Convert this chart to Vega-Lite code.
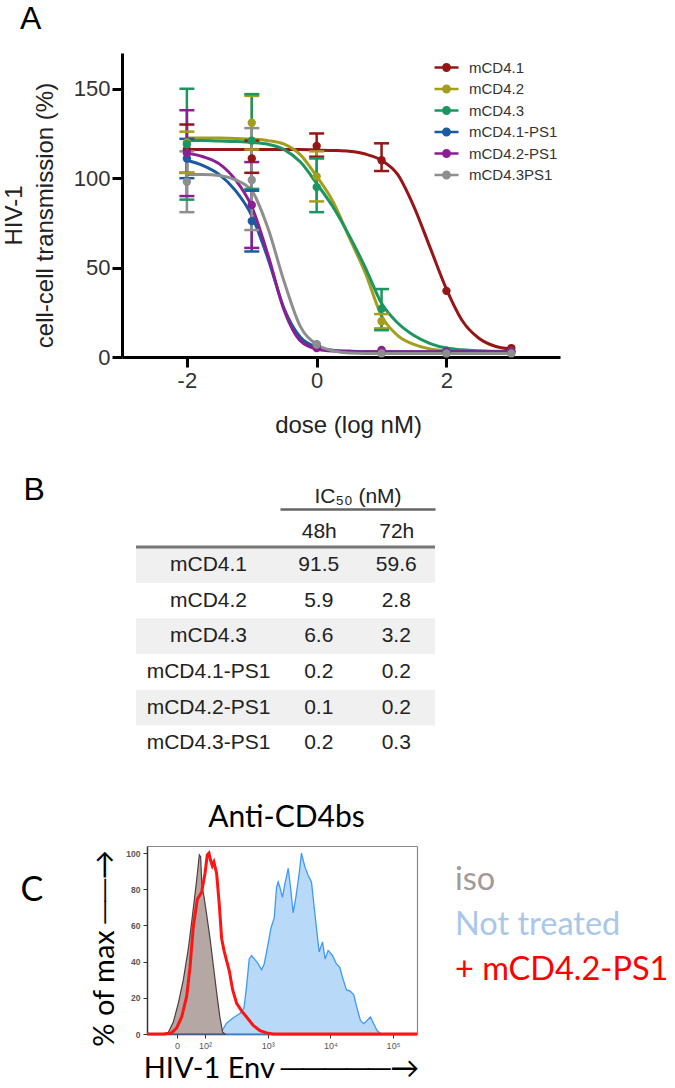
{
  "$schema": "https://vega.github.io/schema/vega-lite/v6.json",
  "width": 675,
  "height": 1088,
  "autosize": {"type": "none"},
  "padding": 0,
  "background": "white",
  "title": {"text": "A", "anchor": "start", "frame": "group", "fontSize": 32, "fontWeight": "normal", "font": "Liberation Sans", "color": "black", "offset": 0, "dx": 20, "dy": 36},
  "datasets": {
    "curves": [
      {"compound": "mCD4.1", "dose": -2, "pct": 116}, {"compound": "mCD4.1", "dose": -1.75, "pct": 116}, {"compound": "mCD4.1", "dose": -1.5, "pct": 116}, {"compound": "mCD4.1", "dose": -1.25, "pct": 116}, {"compound": "mCD4.1", "dose": -1, "pct": 116}, {"compound": "mCD4.1", "dose": -0.75, "pct": 116}, {"compound": "mCD4.1", "dose": -0.5, "pct": 116}, {"compound": "mCD4.1", "dose": -0.25, "pct": 116}, {"compound": "mCD4.1", "dose": 0, "pct": 115.8}, {"compound": "mCD4.1", "dose": 0.25, "pct": 115.5}, {"compound": "mCD4.1", "dose": 0.5, "pct": 115}, {"compound": "mCD4.1", "dose": 0.75, "pct": 113.5}, {"compound": "mCD4.1", "dose": 1, "pct": 110}, {"compound": "mCD4.1", "dose": 1.25, "pct": 102}, {"compound": "mCD4.1", "dose": 1.5, "pct": 84}, {"compound": "mCD4.1", "dose": 1.75, "pct": 61}, {"compound": "mCD4.1", "dose": 2, "pct": 38}, {"compound": "mCD4.1", "dose": 2.25, "pct": 20}, {"compound": "mCD4.1", "dose": 2.5, "pct": 10.5}, {"compound": "mCD4.1", "dose": 2.75, "pct": 6}, {"compound": "mCD4.1", "dose": 3, "pct": 4.5},
      {"compound": "mCD4.2", "dose": -2, "pct": 122.5}, {"compound": "mCD4.2", "dose": -1.75, "pct": 122.5}, {"compound": "mCD4.2", "dose": -1.5, "pct": 122.4}, {"compound": "mCD4.2", "dose": -1.25, "pct": 122.2}, {"compound": "mCD4.2", "dose": -1, "pct": 121.8}, {"compound": "mCD4.2", "dose": -0.75, "pct": 121}, {"compound": "mCD4.2", "dose": -0.5, "pct": 119}, {"compound": "mCD4.2", "dose": -0.25, "pct": 113}, {"compound": "mCD4.2", "dose": 0, "pct": 101}, {"compound": "mCD4.2", "dose": 0.25, "pct": 87}, {"compound": "mCD4.2", "dose": 0.5, "pct": 67}, {"compound": "mCD4.2", "dose": 0.75, "pct": 47}, {"compound": "mCD4.2", "dose": 1, "pct": 23}, {"compound": "mCD4.2", "dose": 1.25, "pct": 12}, {"compound": "mCD4.2", "dose": 1.5, "pct": 7}, {"compound": "mCD4.2", "dose": 1.75, "pct": 4.5}, {"compound": "mCD4.2", "dose": 2, "pct": 3.5}, {"compound": "mCD4.2", "dose": 2.25, "pct": 3}, {"compound": "mCD4.2", "dose": 2.5, "pct": 3}, {"compound": "mCD4.2", "dose": 2.75, "pct": 3}, {"compound": "mCD4.2", "dose": 3, "pct": 3},
      {"compound": "mCD4.3", "dose": -2, "pct": 121}, {"compound": "mCD4.3", "dose": -1.75, "pct": 121}, {"compound": "mCD4.3", "dose": -1.5, "pct": 120.8}, {"compound": "mCD4.3", "dose": -1.25, "pct": 120.5}, {"compound": "mCD4.3", "dose": -1, "pct": 120}, {"compound": "mCD4.3", "dose": -0.75, "pct": 119}, {"compound": "mCD4.3", "dose": -0.5, "pct": 116}, {"compound": "mCD4.3", "dose": -0.25, "pct": 109}, {"compound": "mCD4.3", "dose": 0, "pct": 97}, {"compound": "mCD4.3", "dose": 0.25, "pct": 84}, {"compound": "mCD4.3", "dose": 0.5, "pct": 68}, {"compound": "mCD4.3", "dose": 0.75, "pct": 50}, {"compound": "mCD4.3", "dose": 1, "pct": 30}, {"compound": "mCD4.3", "dose": 1.25, "pct": 19}, {"compound": "mCD4.3", "dose": 1.5, "pct": 12}, {"compound": "mCD4.3", "dose": 1.75, "pct": 7.5}, {"compound": "mCD4.3", "dose": 2, "pct": 5}, {"compound": "mCD4.3", "dose": 2.25, "pct": 4}, {"compound": "mCD4.3", "dose": 2.5, "pct": 3.5}, {"compound": "mCD4.3", "dose": 2.75, "pct": 3.2}, {"compound": "mCD4.3", "dose": 3, "pct": 3},
      {"compound": "mCD4.1-PS1", "dose": -2, "pct": 110}, {"compound": "mCD4.1-PS1", "dose": -1.75, "pct": 107}, {"compound": "mCD4.1-PS1", "dose": -1.5, "pct": 102}, {"compound": "mCD4.1-PS1", "dose": -1.25, "pct": 93}, {"compound": "mCD4.1-PS1", "dose": -1, "pct": 79}, {"compound": "mCD4.1-PS1", "dose": -0.75, "pct": 55}, {"compound": "mCD4.1-PS1", "dose": -0.5, "pct": 27}, {"compound": "mCD4.1-PS1", "dose": -0.25, "pct": 11}, {"compound": "mCD4.1-PS1", "dose": 0, "pct": 5.5}, {"compound": "mCD4.1-PS1", "dose": 0.25, "pct": 3.8}, {"compound": "mCD4.1-PS1", "dose": 0.5, "pct": 3.3}, {"compound": "mCD4.1-PS1", "dose": 0.75, "pct": 3}, {"compound": "mCD4.1-PS1", "dose": 1, "pct": 3}, {"compound": "mCD4.1-PS1", "dose": 1.5, "pct": 3}, {"compound": "mCD4.1-PS1", "dose": 2, "pct": 3}, {"compound": "mCD4.1-PS1", "dose": 2.5, "pct": 3}, {"compound": "mCD4.1-PS1", "dose": 3, "pct": 3},
      {"compound": "mCD4.2-PS1", "dose": -2, "pct": 114}, {"compound": "mCD4.2-PS1", "dose": -1.75, "pct": 112}, {"compound": "mCD4.2-PS1", "dose": -1.5, "pct": 108}, {"compound": "mCD4.2-PS1", "dose": -1.25, "pct": 99}, {"compound": "mCD4.2-PS1", "dose": -1, "pct": 84}, {"compound": "mCD4.2-PS1", "dose": -0.75, "pct": 57}, {"compound": "mCD4.2-PS1", "dose": -0.5, "pct": 26}, {"compound": "mCD4.2-PS1", "dose": -0.25, "pct": 9}, {"compound": "mCD4.2-PS1", "dose": 0, "pct": 4.5}, {"compound": "mCD4.2-PS1", "dose": 0.25, "pct": 3.3}, {"compound": "mCD4.2-PS1", "dose": 0.5, "pct": 3}, {"compound": "mCD4.2-PS1", "dose": 1, "pct": 3}, {"compound": "mCD4.2-PS1", "dose": 1.5, "pct": 3}, {"compound": "mCD4.2-PS1", "dose": 2, "pct": 3}, {"compound": "mCD4.2-PS1", "dose": 2.5, "pct": 3}, {"compound": "mCD4.2-PS1", "dose": 3, "pct": 3},
      {"compound": "mCD4.3PS1", "dose": -2, "pct": 102}, {"compound": "mCD4.3PS1", "dose": -1.75, "pct": 102}, {"compound": "mCD4.3PS1", "dose": -1.5, "pct": 101.5}, {"compound": "mCD4.3PS1", "dose": -1.25, "pct": 99}, {"compound": "mCD4.3PS1", "dose": -1, "pct": 93}, {"compound": "mCD4.3PS1", "dose": -0.75, "pct": 72}, {"compound": "mCD4.3PS1", "dose": -0.5, "pct": 42}, {"compound": "mCD4.3PS1", "dose": -0.25, "pct": 17}, {"compound": "mCD4.3PS1", "dose": 0, "pct": 7}, {"compound": "mCD4.3PS1", "dose": 0.25, "pct": 3.5}, {"compound": "mCD4.3PS1", "dose": 0.5, "pct": 2.2}, {"compound": "mCD4.3PS1", "dose": 0.75, "pct": 2}, {"compound": "mCD4.3PS1", "dose": 1, "pct": 2}, {"compound": "mCD4.3PS1", "dose": 1.5, "pct": 2}, {"compound": "mCD4.3PS1", "dose": 2, "pct": 2}, {"compound": "mCD4.3PS1", "dose": 2.5, "pct": 2}, {"compound": "mCD4.3PS1", "dose": 3, "pct": 2}
    ],
    "pts": [
      {"compound": "mCD4.1", "dose": -2, "pct": 116}, {"compound": "mCD4.1", "dose": -1, "pct": 111}, {"compound": "mCD4.1", "dose": 0, "pct": 118}, {"compound": "mCD4.1", "dose": 1, "pct": 110}, {"compound": "mCD4.1", "dose": 2, "pct": 37}, {"compound": "mCD4.1", "dose": 3, "pct": 5},
      {"compound": "mCD4.2", "dose": -2, "pct": 120}, {"compound": "mCD4.2", "dose": -1, "pct": 131}, {"compound": "mCD4.2", "dose": 0, "pct": 101}, {"compound": "mCD4.2", "dose": 1, "pct": 20}, {"compound": "mCD4.2", "dose": 2, "pct": 3}, {"compound": "mCD4.2", "dose": 3, "pct": 3},
      {"compound": "mCD4.3", "dose": -2, "pct": 119}, {"compound": "mCD4.3", "dose": -1, "pct": 121}, {"compound": "mCD4.3", "dose": 0, "pct": 95}, {"compound": "mCD4.3", "dose": 1, "pct": 27}, {"compound": "mCD4.3", "dose": 2, "pct": 3.5}, {"compound": "mCD4.3", "dose": 3, "pct": 3},
      {"compound": "mCD4.1-PS1", "dose": -2, "pct": 111}, {"compound": "mCD4.1-PS1", "dose": -1, "pct": 76}, {"compound": "mCD4.1-PS1", "dose": 0, "pct": 7}, {"compound": "mCD4.1-PS1", "dose": 1, "pct": 3}, {"compound": "mCD4.1-PS1", "dose": 2, "pct": 3}, {"compound": "mCD4.1-PS1", "dose": 3, "pct": 3},
      {"compound": "mCD4.2-PS1", "dose": -2, "pct": 114}, {"compound": "mCD4.2-PS1", "dose": -1, "pct": 85}, {"compound": "mCD4.2-PS1", "dose": 0, "pct": 5}, {"compound": "mCD4.2-PS1", "dose": 1, "pct": 4}, {"compound": "mCD4.2-PS1", "dose": 2, "pct": 3}, {"compound": "mCD4.2-PS1", "dose": 3, "pct": 3},
      {"compound": "mCD4.3PS1", "dose": -2, "pct": 98}, {"compound": "mCD4.3PS1", "dose": -1, "pct": 99}, {"compound": "mCD4.3PS1", "dose": 0, "pct": 7}, {"compound": "mCD4.3PS1", "dose": 1, "pct": 2}, {"compound": "mCD4.3PS1", "dose": 2, "pct": 2}, {"compound": "mCD4.3PS1", "dose": 3, "pct": 2}
    ],
    "errs": [
      {"compound": "mCD4.1", "dose": -2, "lo": 103, "hi": 130}, {"compound": "mCD4.1", "dose": -1, "lo": 103, "hi": 121}, {"compound": "mCD4.1", "dose": 0, "lo": 112, "hi": 125}, {"compound": "mCD4.1", "dose": 1, "lo": 104, "hi": 119.5},
      {"compound": "mCD4.2", "dose": -2, "lo": 103, "hi": 126}, {"compound": "mCD4.2", "dose": -1, "lo": 116, "hi": 146}, {"compound": "mCD4.2", "dose": 0, "lo": 87, "hi": 115}, {"compound": "mCD4.2", "dose": 1, "lo": 16, "hi": 24},
      {"compound": "mCD4.3", "dose": -2, "lo": 88, "hi": 150}, {"compound": "mCD4.3", "dose": -1, "lo": 94, "hi": 147}, {"compound": "mCD4.3", "dose": 0, "lo": 81, "hi": 111}, {"compound": "mCD4.3", "dose": 1, "lo": 15, "hi": 38},
      {"compound": "mCD4.1-PS1", "dose": -2, "lo": 100, "hi": 122}, {"compound": "mCD4.1-PS1", "dose": -1, "lo": 59, "hi": 93},
      {"compound": "mCD4.2-PS1", "dose": -2, "lo": 90, "hi": 138}, {"compound": "mCD4.2-PS1", "dose": -1, "lo": 61, "hi": 109},
      {"compound": "mCD4.3PS1", "dose": -2, "lo": 81, "hi": 115}, {"compound": "mCD4.3PS1", "dose": -1, "lo": 71, "hi": 128}
    ],
    "ic50": [
      {"name": "mCD4.1", "48h": "91.5", "72h": "59.6"},
      {"name": "mCD4.2", "48h": "5.9", "72h": "2.8"},
      {"name": "mCD4.3", "48h": "6.6", "72h": "3.2"},
      {"name": "mCD4.1-PS1", "48h": "0.2", "72h": "0.2"},
      {"name": "mCD4.2-PS1", "48h": "0.1", "72h": "0.2"},
      {"name": "mCD4.3-PS1", "48h": "0.2", "72h": "0.3"}
    ],
    "hist": [
      {"series": "iso", "log_env": 1.336, "pct": 0}, {"series": "iso", "log_env": 1.416, "pct": 1}, {"series": "iso", "log_env": 1.495, "pct": 6.6}, {"series": "iso", "log_env": 1.575, "pct": 17}, {"series": "iso", "log_env": 1.655, "pct": 30}, {"series": "iso", "log_env": 1.734, "pct": 47}, {"series": "iso", "log_env": 1.788, "pct": 62}, {"series": "iso", "log_env": 1.83, "pct": 74}, {"series": "iso", "log_env": 1.867, "pct": 85}, {"series": "iso", "log_env": 1.91, "pct": 99}, {"series": "iso", "log_env": 1.931, "pct": 98}, {"series": "iso", "log_env": 1.952, "pct": 81}, {"series": "iso", "log_env": 1.984, "pct": 76}, {"series": "iso", "log_env": 2.027, "pct": 66}, {"series": "iso", "log_env": 2.08, "pct": 53}, {"series": "iso", "log_env": 2.133, "pct": 38}, {"series": "iso", "log_env": 2.186, "pct": 23}, {"series": "iso", "log_env": 2.239, "pct": 9}, {"series": "iso", "log_env": 2.281, "pct": 1}, {"series": "iso", "log_env": 2.319, "pct": 0},
      {"series": "Not treated", "log_env": 1.3, "pct": 0}, {"series": "Not treated", "log_env": 2.239, "pct": 0}, {"series": "Not treated", "log_env": 2.345, "pct": 6}, {"series": "Not treated", "log_env": 2.451, "pct": 9}, {"series": "Not treated", "log_env": 2.558, "pct": 11.3}, {"series": "Not treated", "log_env": 2.621, "pct": 14.2}, {"series": "Not treated", "log_env": 2.664, "pct": 26.4}, {"series": "Not treated", "log_env": 2.706, "pct": 41.5}, {"series": "Not treated", "log_env": 2.744, "pct": 43.4}, {"series": "Not treated", "log_env": 2.797, "pct": 41.1}, {"series": "Not treated", "log_env": 2.85, "pct": 38.7}, {"series": "Not treated", "log_env": 2.903, "pct": 35.5}, {"series": "Not treated", "log_env": 2.945, "pct": 38.7}, {"series": "Not treated", "log_env": 2.998, "pct": 48.1}, {"series": "Not treated", "log_env": 3.052, "pct": 58.5}, {"series": "Not treated", "log_env": 3.105, "pct": 64.2}, {"series": "Not treated", "log_env": 3.142, "pct": 81.1}, {"series": "Not treated", "log_env": 3.168, "pct": 84}, {"series": "Not treated", "log_env": 3.195, "pct": 81.1}, {"series": "Not treated", "log_env": 3.237, "pct": 75.5}, {"series": "Not treated", "log_env": 3.275, "pct": 83}, {"series": "Not treated", "log_env": 3.328, "pct": 91.5}, {"series": "Not treated", "log_env": 3.365, "pct": 81.1}, {"series": "Not treated", "log_env": 3.407, "pct": 67}, {"series": "Not treated", "log_env": 3.45, "pct": 75.5}, {"series": "Not treated", "log_env": 3.503, "pct": 88.7}, {"series": "Not treated", "log_env": 3.54, "pct": 100}, {"series": "Not treated", "log_env": 3.593, "pct": 92.5}, {"series": "Not treated", "log_env": 3.646, "pct": 87.7}, {"series": "Not treated", "log_env": 3.699, "pct": 84}, {"series": "Not treated", "log_env": 3.737, "pct": 71.7}, {"series": "Not treated", "log_env": 3.779, "pct": 58.5}, {"series": "Not treated", "log_env": 3.822, "pct": 45.3}, {"series": "Not treated", "log_env": 3.875, "pct": 50.9}, {"series": "Not treated", "log_env": 3.917, "pct": 41.5}, {"series": "Not treated", "log_env": 3.965, "pct": 46.2}, {"series": "Not treated", "log_env": 4.034, "pct": 43.4}, {"series": "Not treated", "log_env": 4.098, "pct": 38.7}, {"series": "Not treated", "log_env": 4.151, "pct": 36.8}, {"series": "Not treated", "log_env": 4.204, "pct": 30.2}, {"series": "Not treated", "log_env": 4.257, "pct": 24.5}, {"series": "Not treated", "log_env": 4.321, "pct": 23.6}, {"series": "Not treated", "log_env": 4.374, "pct": 21.7}, {"series": "Not treated", "log_env": 4.427, "pct": 14.2}, {"series": "Not treated", "log_env": 4.48, "pct": 7.5}, {"series": "Not treated", "log_env": 4.533, "pct": 5.7}, {"series": "Not treated", "log_env": 4.586, "pct": 7.5}, {"series": "Not treated", "log_env": 4.639, "pct": 9.4}, {"series": "Not treated", "log_env": 4.692, "pct": 5.7}, {"series": "Not treated", "log_env": 4.745, "pct": 1.9}, {"series": "Not treated", "log_env": 4.815, "pct": 0}, {"series": "Not treated", "log_env": 5.383, "pct": 0},
      {"series": "+ mCD4.2-PS1", "log_env": 1.075, "pct": 0}, {"series": "+ mCD4.2-PS1", "log_env": 1.336, "pct": 0}, {"series": "+ mCD4.2-PS1", "log_env": 1.469, "pct": 0.6}, {"series": "+ mCD4.2-PS1", "log_env": 1.549, "pct": 3.4}, {"series": "+ mCD4.2-PS1", "log_env": 1.628, "pct": 9.4}, {"series": "+ mCD4.2-PS1", "log_env": 1.708, "pct": 20.8}, {"series": "+ mCD4.2-PS1", "log_env": 1.761, "pct": 36.8}, {"series": "+ mCD4.2-PS1", "log_env": 1.814, "pct": 59.4}, {"series": "+ mCD4.2-PS1", "log_env": 1.878, "pct": 74.5}, {"series": "+ mCD4.2-PS1", "log_env": 1.947, "pct": 78.3}, {"series": "+ mCD4.2-PS1", "log_env": 2.0, "pct": 88.7}, {"series": "+ mCD4.2-PS1", "log_env": 2.037, "pct": 99}, {"series": "+ mCD4.2-PS1", "log_env": 2.064, "pct": 100}, {"series": "+ mCD4.2-PS1", "log_env": 2.09, "pct": 96}, {"series": "+ mCD4.2-PS1", "log_env": 2.117, "pct": 93}, {"series": "+ mCD4.2-PS1", "log_env": 2.143, "pct": 95}, {"series": "+ mCD4.2-PS1", "log_env": 2.186, "pct": 88.7}, {"series": "+ mCD4.2-PS1", "log_env": 2.228, "pct": 71.7}, {"series": "+ mCD4.2-PS1", "log_env": 2.266, "pct": 52.8}, {"series": "+ mCD4.2-PS1", "log_env": 2.303, "pct": 46.2}, {"series": "+ mCD4.2-PS1", "log_env": 2.345, "pct": 40.6}, {"series": "+ mCD4.2-PS1", "log_env": 2.388, "pct": 34.9}, {"series": "+ mCD4.2-PS1", "log_env": 2.441, "pct": 24.5}, {"series": "+ mCD4.2-PS1", "log_env": 2.505, "pct": 17}, {"series": "+ mCD4.2-PS1", "log_env": 2.584, "pct": 12.8}, {"series": "+ mCD4.2-PS1", "log_env": 2.664, "pct": 9.4}, {"series": "+ mCD4.2-PS1", "log_env": 2.77, "pct": 4.7}, {"series": "+ mCD4.2-PS1", "log_env": 2.876, "pct": 1.9}, {"series": "+ mCD4.2-PS1", "log_env": 2.982, "pct": 0.6}, {"series": "+ mCD4.2-PS1", "log_env": 3.089, "pct": 0}, {"series": "+ mCD4.2-PS1", "log_env": 5.383, "pct": 0}
    ],
    "legC": [{"series": "iso"}, {"series": "Not treated"}, {"series": "+ mCD4.2-PS1"}]
  },
  "layer": [
    {
      "layer": [
        {
          "data": {"name": "curves"},
          "mark": {"type": "line", "interpolate": "monotone", "strokeWidth": 3},
          "encoding": {
            "x": {"field": "dose", "type": "quantitative", "scale": {"domain": [-3, 3.75], "range": [122, 560], "nice": false, "zero": false},
                  "axis": {"orient": "bottom", "offset": -731, "values": [-2, 0, 2], "labelExpr": "'' + datum.value", "domainColor": "black", "domainWidth": 3, "tickColor": "black", "tickWidth": 3, "tickSize": 10, "labelFont": "Liberation Sans", "labelFontSize": 22, "labelColor": "#333", "labelPadding": 3, "labelFlush": false, "title": "dose (log nM)", "titleFont": "Liberation Sans", "titleFontSize": 24, "titleFontWeight": "normal", "titleColor": "#222", "titleX": 348, "titleY": 68, "titleBaseline": "middle"}},
            "y": {"field": "pct", "type": "quantitative", "scale": {"domain": [0, 170], "range": [357, 53], "nice": false},
                  "axis": {"orient": "left", "offset": -122, "values": [0, 50, 100, 150], "domainColor": "black", "domainWidth": 3, "tickColor": "black", "tickWidth": 3, "tickSize": 10, "labelFont": "Liberation Sans", "labelFontSize": 22, "labelColor": "#333", "labelPadding": 2, "title": ["HIV-1", "cell-cell transmission (%)"], "titleFont": "Liberation Sans", "titleFontSize": 24, "titleFontWeight": "normal", "titleColor": "#222", "titleLineHeight": 31, "titleX": -96, "titleY": 215, "titleBaseline": "bottom"}},
            "color": {"field": "compound", "type": "nominal",
                      "scale": {"domain": ["mCD4.1", "mCD4.2", "mCD4.3", "mCD4.1-PS1", "mCD4.2-PS1", "mCD4.3PS1"], "range": ["#961516", "#A39E1B", "#1C9560", "#1A5AA3", "#8B1D95", "#8E8E8E"]},
                      "legend": {"orient": "none", "legendX": 435, "legendY": 56, "title": null, "symbolType": "M-1.2,0L1.2,0M-0.32,0A0.32,0.32,0,1,1,0.32,0A0.32,0.32,0,1,1,-0.32,0", "symbolSize": 400, "symbolStrokeWidth": 2.5, "labelFont": "Liberation Sans", "labelFontSize": 15, "labelColor": "#333", "labelOffset": 11, "rowPadding": 1.5}}
          }
        },
        {
          "data": {"name": "errs"},
          "mark": {"type": "rule", "strokeWidth": 2.5},
          "encoding": {
            "x": {"field": "dose", "type": "quantitative"},
            "y": {"field": "lo", "type": "quantitative"},
            "y2": {"field": "hi"},
            "color": {"field": "compound", "type": "nominal"}
          }
        },
        {
          "data": {"name": "errs"},
          "mark": {"type": "tick", "orient": "horizontal", "size": 15, "thickness": 2.5, "opacity": 1},
          "encoding": {
            "x": {"field": "dose", "type": "quantitative"},
            "y": {"field": "lo", "type": "quantitative"},
            "color": {"field": "compound", "type": "nominal"}
          }
        },
        {
          "data": {"name": "errs"},
          "mark": {"type": "tick", "orient": "horizontal", "size": 15, "thickness": 2.5, "opacity": 1},
          "encoding": {
            "x": {"field": "dose", "type": "quantitative"},
            "y": {"field": "hi", "type": "quantitative"},
            "color": {"field": "compound", "type": "nominal"}
          }
        },
        {
          "data": {"name": "pts"},
          "mark": {"type": "point", "filled": true, "size": 70, "opacity": 1},
          "encoding": {
            "x": {"field": "dose", "type": "quantitative"},
            "y": {"field": "pct", "type": "quantitative"},
            "color": {"field": "compound", "type": "nominal"}
          }
        }
      ]
    },
    {
      "layer": [
        {
          "data": {"name": "ic50"},
          "transform": [{"filter": "indexof(['mCD4.1', 'mCD4.3', 'mCD4.2-PS1'], datum.name) >= 0"}],
          "mark": {"type": "rect", "color": "#F0F0F0"},
          "encoding": {
            "x": {"datum": 0, "type": "quantitative", "scale": {"domain": [0, 1], "range": [136, 435], "nice": false}, "axis": null},
            "x2": {"datum": 1},
            "y": {"field": "name", "type": "nominal"}
          }
        },
        {
          "data": {"name": "ic50"},
          "transform": [{"filter": "datum.name == 'mCD4.1'"}],
          "mark": {"type": "rule", "strokeWidth": 3, "color": "#777"},
          "encoding": {
            "x": {"datum": 0, "type": "quantitative", "scale": {"domain": [0, 1], "range": [136, 435], "nice": false}, "axis": null},
            "x2": {"datum": 1},
            "y": {"field": "name", "type": "nominal", "bandPosition": 0}
          }
        },
        {
          "data": {"name": "ic50"},
          "transform": [{"fold": ["48h", "72h"], "as": ["time", "value"]}],
          "mark": {"type": "text", "font": "Liberation Sans", "fontSize": 21, "color": "#222"},
          "encoding": {
            "x": {"field": "time", "type": "nominal", "scale": {"type": "point", "domain": ["48h", "72h"], "range": [280, 435], "padding": 0.5},
                  "axis": {"orient": "bottom", "offset": -579, "domainColor": "#666", "domainWidth": 2.5, "ticks": false, "labelAngle": 0, "labelFont": "Liberation Sans", "labelFontSize": 21, "labelColor": "#222", "labelPadding": 11, "title": "IC₅₀ (nM)", "titleFont": "Liberation Sans", "titleFontSize": 21, "titleFontWeight": "normal", "titleColor": "#222", "titleY": -13, "titleBaseline": "middle"}},
            "y": {"field": "name", "type": "nominal", "scale": {"type": "band", "domain": ["mCD4.1", "mCD4.2", "mCD4.3", "mCD4.1-PS1", "mCD4.2-PS1", "mCD4.3-PS1"], "range": [547, 761], "paddingInner": 0, "paddingOuter": 0},
                  "axis": {"orient": "left", "offset": -280, "domain": false, "ticks": false, "labelAlign": "center", "labelPadding": 72, "labelFont": "Liberation Sans", "labelFontSize": 21, "labelColor": "#222", "title": "B", "titleAngle": 0, "titleX": -257, "titleY": 489, "titleAlign": "left", "titleBaseline": "middle", "titleFont": "Liberation Sans", "titleFontSize": 32, "titleFontWeight": "normal", "titleColor": "black"}},
            "text": {"field": "value", "type": "nominal"}
          }
        }
      ],
      "resolve": {"scale": {"x": "independent"}, "axis": {"x": "independent"}}
    },
    {
      "layer": [
        {
          "layer": [
            {
              "data": {"name": "hist"},
              "transform": [{"filter": "datum.series == 'Not treated'"}],
              "mark": {"type": "area", "fill": "#B9D9F9", "stroke": "#3F99F3", "strokeWidth": 1.3, "opacity": 1},
              "encoding": {
                "x": {"field": "log_env", "type": "quantitative", "scale": {"domain": [1.075, 5.383], "range": [147, 417], "nice": false, "zero": false},
                      "axis": {"orient": "bottom", "offset": -54, "values": [1.553, 2, 3, 4, 5], "labelExpr": "datum.value < 1.9 ? '0' : datum.value == 2 ? '10²' : datum.value == 3 ? '10³' : datum.value == 4 ? '10⁴' : '10⁵'", "domainColor": "#333", "domainWidth": 1.5, "tickColor": "#333", "tickSize": 4, "labelFont": "Liberation Sans", "labelFontSize": 9, "labelColor": "#555", "labelPadding": 3, "labelFlush": false, "title": "HIV-1 Env ─────→", "titleFont": "Lato, DejaVu Sans", "titleFontSize": 29, "titleFontWeight": "normal", "titleColor": "black", "titleX": 281, "titleY": 34, "titleBaseline": "middle"}},
                "y": {"field": "pct", "type": "quantitative", "scale": {"domain": [0, 103.9], "range": [1034, 846], "nice": false},
                      "axis": {"orient": "left", "offset": -147, "values": [0, 20, 40, 60, 80, 100], "domainColor": "#333", "domainWidth": 1.5, "tickColor": "#333", "tickSize": 4, "labelFont": "Liberation Sans", "labelFontSize": 8.5, "labelFontWeight": "bold", "labelColor": "#555", "labelPadding": 3, "title": "% of max ──→", "titleFont": "Lato, DejaVu Sans", "titleFontSize": 29, "titleFontWeight": "normal", "titleColor": "black", "titleX": -28, "titleY": 948, "titleBaseline": "bottom"}}
              }
            },
            {
              "data": {"name": "hist"},
              "transform": [{"filter": "datum.series == 'iso'"}],
              "mark": {"type": "area", "fill": "#B5A7A4", "stroke": "#4E3F3D", "strokeWidth": 1.2, "opacity": 1},
              "encoding": {
                "x": {"field": "log_env", "type": "quantitative"},
                "y": {"field": "pct", "type": "quantitative"}
              }
            },
            {
              "data": {"name": "hist"},
              "transform": [{"filter": "datum.series == '+ mCD4.2-PS1'"}],
              "mark": {"type": "line", "stroke": "#FF1414", "strokeWidth": 3},
              "encoding": {
                "x": {"field": "log_env", "type": "quantitative"},
                "y": {"field": "pct", "type": "quantitative"}
              }
            }
          ]
        },
        {
          "data": {"name": "legC"},
          "mark": {"type": "point", "opacity": 0},
          "encoding": {
            "x": {"datum": 3, "type": "quantitative", "scale": {"domain": [1.075, 5.383], "range": [147, 417], "nice": false, "zero": false},
                  "axis": {"orient": "top", "offset": -846, "domainColor": "#888", "domainWidth": 1.2, "ticks": false, "labels": false, "title": "Anti-CD4bs", "titleFont": "Lato", "titleFontSize": 30, "titleFontWeight": "normal", "titleColor": "black", "titleX": 286, "titleY": -20, "titleBaseline": "alphabetic"}},
            "y": {"datum": 50, "type": "quantitative", "scale": {"domain": [0, 103.9], "range": [1034, 846], "nice": false},
                  "axis": {"orient": "right", "offset": -258, "domainColor": "#888", "domainWidth": 1.2, "ticks": false, "labels": false, "title": "C", "titleAngle": 0, "titleX": -397, "titleY": 890, "titleAlign": "left", "titleBaseline": "middle", "titleFont": "Lato", "titleFontSize": 34, "titleFontWeight": "normal", "titleColor": "black"}}
          }
        },
        {
          "data": {"name": "legC"},
          "mark": {"type": "text", "font": "Lato", "fontSize": 32.5, "align": "left", "baseline": "middle"},
          "encoding": {
            "x": {"datum": 0, "type": "quantitative", "scale": {"domain": [0, 1], "range": [455, 675], "nice": false}, "axis": null},
            "y": {"field": "series", "type": "nominal", "scale": {"type": "point", "domain": ["iso", "Not treated", "+ mCD4.2-PS1"], "range": [880, 970], "padding": 0}, "axis": null},
            "text": {"field": "series", "type": "nominal"},
            "color": {"field": "series", "type": "nominal", "scale": {"domain": ["iso", "Not treated", "+ mCD4.2-PS1"], "range": ["#A29A98", "#A8C7EA", "#FF0000"]}, "legend": null}
          }
        }
      ],
      "resolve": {"scale": {"x": "independent", "y": "independent"}, "axis": {"x": "independent", "y": "independent"}}
    }
  ],
  "resolve": {"scale": {"x": "independent", "y": "independent", "color": "independent"}, "axis": {"x": "independent", "y": "independent"}, "legend": {"color": "independent"}},
  "config": {"font": "Liberation Sans", "view": {"stroke": null}, "axis": {"grid": false}}
}
